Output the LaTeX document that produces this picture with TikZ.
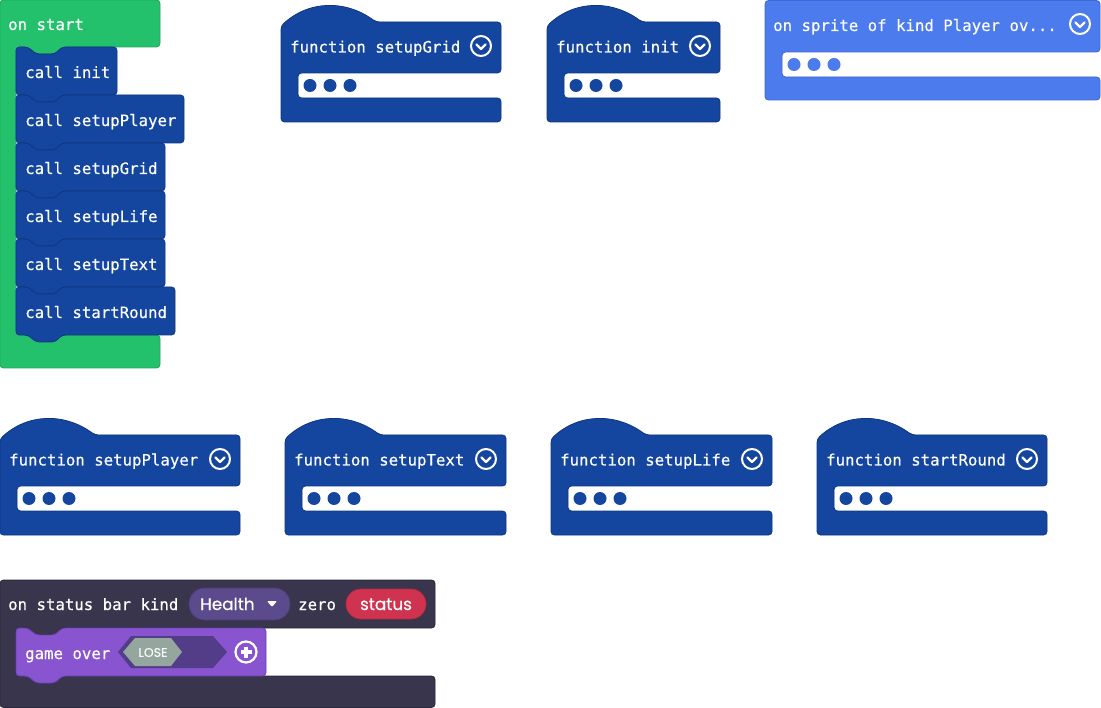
\documentclass[tikz,border=0pt]{standalone}
\usepackage{fontspec}
\newfontfamily\blockmono[FakeBold=0.35]{DejaVu Sans Mono}
\newfontfamily\pillfont[FakeBold=0.3]{Poppins}
\newfontfamily\losefont[FakeBold=0.6]{Poppins}
\definecolor{startgreen}{HTML}{23C16B}
\definecolor{startgreenD}{HTML}{1DA65B}
\definecolor{fnblue}{HTML}{1446A0}
\definecolor{fnblueD}{HTML}{0E3680}
\definecolor{spriteblue}{HTML}{4B7BEC}
\definecolor{spriteblueD}{HTML}{3D68CF}
\definecolor{statusdark}{HTML}{38354D}
\definecolor{statusdarkD}{HTML}{2A283B}
\definecolor{gamepurple}{HTML}{8854D0}
\definecolor{gamepurpleD}{HTML}{6E3FB3}
\definecolor{kindpill}{HTML}{5B4B8C}
\definecolor{kindpillD}{HTML}{4A3C75}
\definecolor{varred}{HTML}{D0334F}
\definecolor{varredD}{HTML}{B22840}
\definecolor{hexdark}{HTML}{533C88}
\definecolor{losegray}{HTML}{94A69E}
\tikzset{
  blk/.style={rounded corners=3.5pt, line width=0.8pt},
  btxt/.style={font=\blockmono\fontsize{15.7}{18}\selectfont, text=white, inner sep=0pt, anchor=base west},
  ptxt/.style={font=\pillfont\fontsize{16.8}{18}\selectfont, text=white, inner sep=0pt, anchor=base},
  losetxt/.style={font=\losefont\fontsize{12.5}{13}\selectfont, text=white!92!losegray, inner sep=0pt},
  iconring/.style={draw=white, line width=2pt},
  iconline/.style={draw=white, line width=2.2pt, line cap=round, line join=round},
}
% statement block with notch on top and tab below
\newcommand\stmtblock[7]{% name, x, y, w, label, fill, draw
  \draw[blk, fill=#6, draw=#7] (#2,#3) -- (#2+12,#3) -- (#2+20,#3+7) -- (#2+39,#3+7) -- (#2+46,#3) -- (#2+#4,#3)
    -- (#2+#4,#3+48) -- (#2+46,#3+48) -- (#2+39,#3+55) -- (#2+20,#3+55) -- (#2+12,#3+48) -- (#2,#3+48) -- cycle;
  \node[btxt] (#1) at (#2+9,#3+31) {#5};
}
\newcommand\chevicon[3]{% name, x, y
  \draw[iconring] (#2,#3) circle (10pt);
  \coordinate (#1) at (#2,#3);
  \draw[iconline] (#2-4.5,#3-1.5) -- (#2,#3+3) -- (#2+4.5,#3-1.5);
}
\newcommand\emptydots[3]{% x0, y slot centre, colour
  \fill[#3] (#1+29,#2) circle (6.5pt);
  \fill[#3] (#1+49,#2) circle (6.5pt);
  \fill[#3] (#1+69,#2) circle (6.5pt);
}
% function definition block with hat
\newcommand\fnblock[5]{% name, x0, yh, w, label
  \draw[blk, fill=fnblue, draw=fnblueD] (#2,#3+100) -- (#2,#3+4) .. controls (#2+28,#3-22) and (#2+65,#3-22) .. (#2+95,#3)
    -- (#2+#4,#3) -- (#2+#4,#3+51) -- (#2+17,#3+51) -- (#2+17,#3+76) -- (#2+#4,#3+76) -- (#2+#4,#3+100) -- cycle;
  \emptydots{#2}{#3+63.5}{fnblue}
  \node[btxt] (#1) at (#2+9,#3+30.5) {function #5};
  \chevicon{#1icon}{#2+#4-20}{#3+24}
}
\begin{document}
\begin{tikzpicture}[x=1pt,y=-1pt]
\useasboundingbox (0,0) rectangle (1101,708);
\fill[white] (0,0) rectangle (1101,708);

% ---------- on start ----------
\draw[blk, fill=startgreen, draw=startgreenD] (0,0) -- (160,0) -- (160,47) -- (62,47) -- (55,54) -- (36,54) -- (28,47) -- (16,47)
  -- (16,335) -- (160,335) -- (160,368) -- (0,368) -- cycle;
\node[btxt] (onstart) at (8,30) {on start};
\stmtblock{cinit}{16}{47}{101}{call init}{fnblue}{fnblueD}
\stmtblock{cplayer}{16}{95}{168}{call setupPlayer}{fnblue}{fnblueD}
\stmtblock{cgrid}{16}{143}{149}{call setupGrid}{fnblue}{fnblueD}
\stmtblock{clife}{16}{191}{149}{call setupLife}{fnblue}{fnblueD}
\stmtblock{ctext}{16}{239}{149}{call setupText}{fnblue}{fnblueD}
\stmtblock{cround}{16}{287}{159}{call startRound}{fnblue}{fnblueD}

% ---------- function blocks ----------
\fnblock{fgrid}{281}{22}{220}{setupGrid}
\fnblock{finit}{547}{22}{173}{init}
\fnblock{fplayer}{0}{435}{240}{setupPlayer}
\fnblock{ftext}{285}{435}{221}{setupText}
\fnblock{flife}{551}{435}{221}{setupLife}
\fnblock{fround}{817}{435}{230}{startRound}

% ---------- on sprite overlap ----------
\draw[blk, fill=spriteblue, draw=spriteblueD] (765,0.5) -- (1100,0.5) -- (1100,52) -- (782,52) -- (782,77) -- (1100,77) -- (1100,100) -- (765,100) -- cycle;
\emptydots{765}{64.5}{spriteblue}
\node[btxt] (sprite) at (773,31) {on sprite of kind Player ov...};
\chevicon{spriteicon}{1080}{24}

% ---------- on status bar zero ----------
\draw[blk, fill=statusdark, draw=statusdarkD] (0,580) -- (435,580) -- (435,628) -- (62,628) -- (55,635) -- (36,635) -- (28,628) -- (16,628)
  -- (16,676) -- (435,676) -- (435,707.5) -- (0,707.5) -- cycle;
\node[btxt] (statushdr) at (8,610) {on status bar kind};
\draw[fill=kindpill, draw=kindpillD, line width=0.8pt, rounded corners=15.5pt] (189,588) rectangle (290,620);
\node[ptxt, anchor=base west] (health) at (200,610) {Health};
\fill[white, rounded corners=1pt] (267,601) -- (277,601) -- (272,607) -- cycle;
\node[btxt] (zero) at (298,610) {zero};
\draw[fill=varred, draw=varredD, line width=0.8pt, rounded corners=15pt] (346,589) rectangle (426,619);
\node[ptxt] (statusvar) at (386,610) {status};

\stmtblock{gameover}{16}{628}{250}{game over}{gamepurple}{gamepurpleD}
\fill[hexdark] (118,652) -- (131,636) -- (213,636) -- (227,652) -- (213,668) -- (131,668) -- cycle;
\fill[losegray] (123,652) -- (135,638) -- (171,638) -- (182,652) -- (171,666) -- (135,666) -- cycle;
\node[losetxt] (lose) at (153,652.5) {LOSE};
\draw[iconring, line width=2.2pt] (246,652) circle (10.5pt);
\coordinate (plusicon) at (246,652);
\draw[white, line width=3.6pt] (240.5,652) -- (251.5,652) (246,646.5) -- (246,657.5);
\end{tikzpicture}
\end{document}
